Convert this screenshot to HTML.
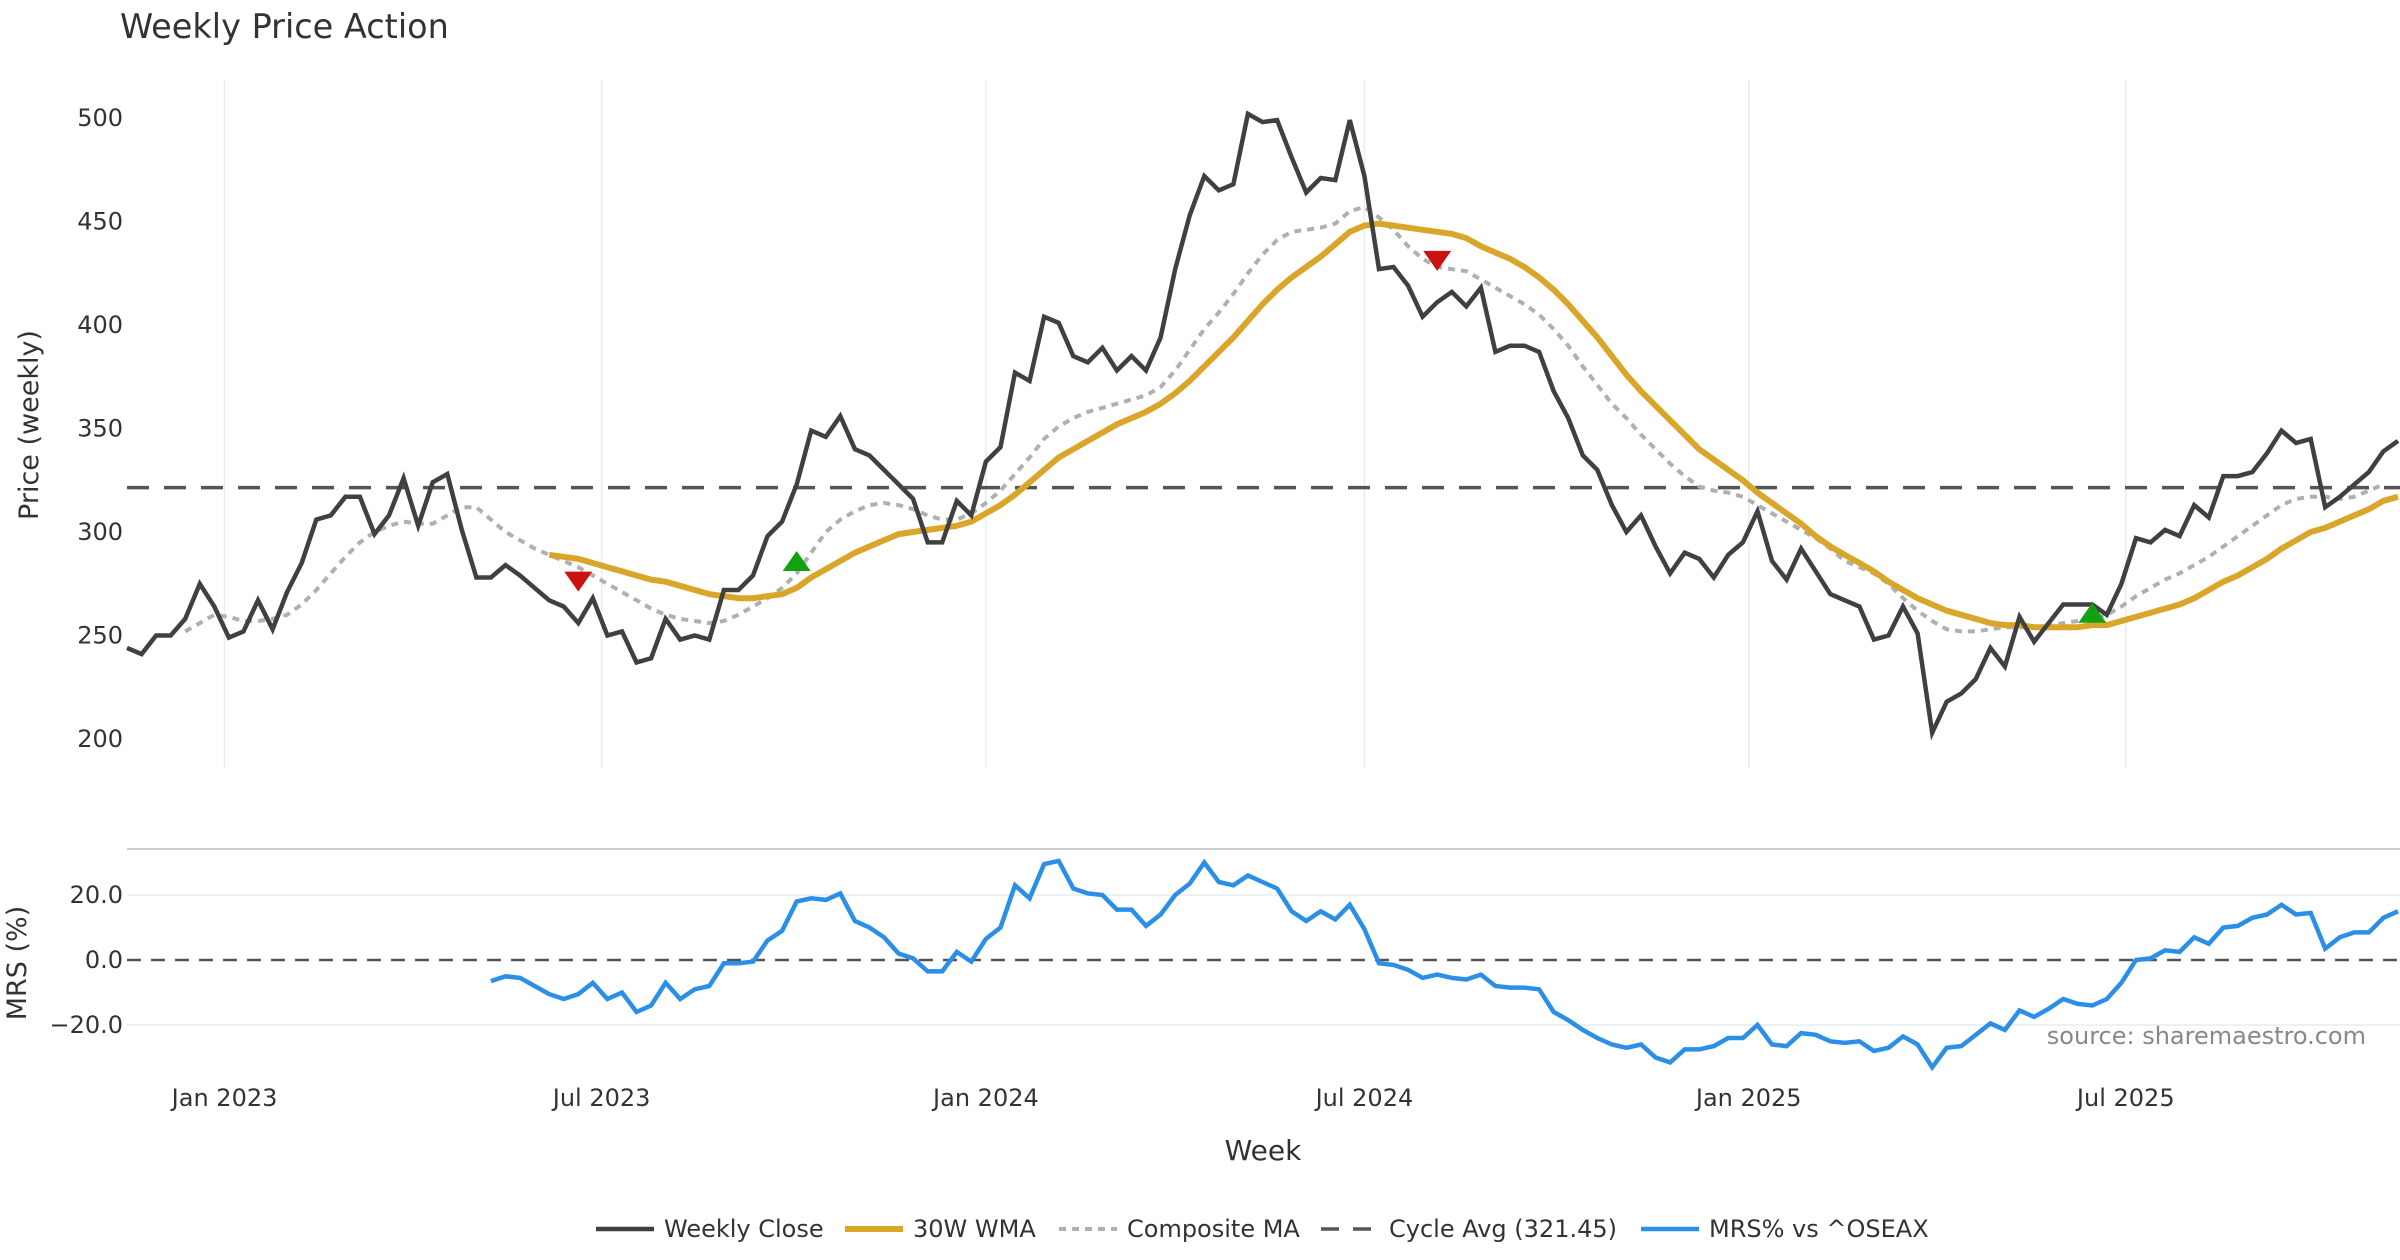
<!DOCTYPE html>
<html><head><meta charset="utf-8"><style>
html,body{margin:0;padding:0;background:#fff;}
svg{display:block;font-family:"DejaVu Sans","Liberation Sans",sans-serif;}
</style></head><body>
<svg id="chart" width="2400" height="1260" viewBox="0 0 2400 1260" xmlns="http://www.w3.org/2000/svg">
<text x="120" y="38" font-size="33.5" fill="#333">Weekly Price Action</text>
<text transform="translate(38,425) rotate(-90)" text-anchor="middle" font-size="27" fill="#333">Price (weekly)</text>
<text transform="translate(26,963) rotate(-90)" text-anchor="middle" font-size="27" fill="#333">MRS (%)</text>
<text x="1263" y="1160" text-anchor="middle" font-size="28" fill="#333">Week</text>
<text x="2366" y="1044" text-anchor="end" font-size="24" fill="#888">source: sharemaestro.com</text>
<g id="grid"></g><g id="marks"></g><g id="legend"></g>
</svg>
<script>
const closes=[244,241,250,250,258,275,264,249,252,267,253,271,285,306,308,317,317,299,308,326,303,324,328,301,278,278,284,279,273,267,264,256,268,250,252,237,239,258,248,250,248,272,272,279,298,305,323,349,346,356,340,337,330,323,316,295,295,315,308,334,341,377,373,404,401,385,382,389,378,385,378,394,427,453,472,465,468,502,498,499,481,464,471,470,499,472,427,428,419,404,411,416,409,418,387,390,390,387,368,355,337,330,313,300,308,293,280,290,287,278,289,295,310,286,277,292,281,270,267,264,248,250,264,251,203,218,222,229,244,235,259,247,256,265,265,265,260,275,297,295,301,298,313,307,327,327,329,338,349,343,345,312,317,323,329,339,344];
const wmaStart=29;
const wma=[289,288,287,285,283,281,279,277,276,274,272,270,269,268,268,269,270,273,278,282,286,290,293,296,299,300,301,302,303,305,309,313,318,324,330,336,340,344,348,352,355,358,362,367,373,380,387,394,402,410,417,423,428,433,439,445,448,449,448,447,446,445,444,442,438,435,432,428,423,417,410,402,394,385,376,368,361,354,347,340,335,330,325,319,314,309,304,298,293,289,285,281,276,272,268,265,262,260,258,256,255,255,254,254,254,254,255,255,257,259,261,263,265,268,272,276,279,283,287,292,296,300,302,305,308,311,315,317];
const compStart=4;
const comp=[252,256,260,259,257,257,258,260,265,272,280,288,295,300,303,305,304,304,308,312,312,306,300,296,292,289,286,283,279,275,271,267,263,260,258,257,256,257,260,264,268,273,280,290,300,306,310,313,314,313,311,308,306,306,309,314,320,328,336,345,351,355,358,360,362,364,366,370,378,388,398,406,415,425,434,441,445,446,447,449,455,457,452,446,438,432,428,427,426,422,418,414,410,405,398,390,380,371,362,355,347,340,333,327,322,320,319,317,313,309,305,301,297,292,286,283,280,275,268,262,257,253,252,252,253,254,254,254,255,256,257,258,260,264,269,273,277,280,284,288,293,298,303,308,313,316,317,317,316,317,320,323];
const mrs=[-6.5,-5,-5.5,-8,-10.5,-12,-10.5,-7,-12,-10,-16,-14,-7,-12,-9,-8,-1,-1,-0.5,6,9,18,19,18.5,20.5,12,10,7,2,0.5,-3.5,-3.5,2.5,-0.5,6.5,10,23,19,29.5,30.5,22,20.5,20,15.5,15.5,10.5,14,20,23.5,30,24,23,26,24,22,15,12,15,12.5,17,9.5,-1,-1.5,-3,-5.5,-4.5,-5.5,-6,-4.5,-8,-8.5,-8.5,-9,-16,-18.5,-21.5,-24,-26,-27,-26,-30,-31.5,-27.5,-27.5,-26.5,-24,-24,-20,-26,-26.5,-22.5,-23,-25,-25.5,-25,-28,-27,-23.5,-26,-33,-27,-26.5,-23,-19.5,-21.5,-15.5,-17.5,-15,-12,-13.5,-14,-12,-7,0,0.5,3,2.5,7,5,10,10.5,13,14,17,14,14.5,3.5,7,8.5,8.5,13,15];
const cycleAvg=321.45;
const priceTicks=[500,450,400,350,300,250,200];
const mrsTicks=[20,0,-20];
const mrsTickLabels=["20.0","0.0","\u221220.0"];
const dateLabels=["Jan 2023","Jul 2023","Jan 2024","Jul 2024","Jan 2025","Jul 2025"];
const dateWeeks=[6.7,32.6,59.0,85.0,111.4,137.3];
const signalWeeks=[31,46,90,135];
const signalValues=[276,286,431,261];
const signalTypes=["down","up","down","up"];

const N=closes.length;
const X0=127,X1=2398;
const xs=i=>X0+i*(X1-X0)/(N-1);
const yp=v=>118+(500-v)*(739-118)/300;
const ym=v=>960-v*(960-895)/20;
const NS="http://www.w3.org/2000/svg";
function mk(tag,attrs,parent){const e=document.createElementNS(NS,tag);for(const k in attrs)e.setAttribute(k,attrs[k]);parent.appendChild(e);return e;}
const grid=document.getElementById('grid'),marks=document.getElementById('marks'),legend=document.getElementById('legend');

dateWeeks.forEach((w,k)=>{
  const x=xs(w);
  const g=mk('line',{x1:x,x2:x,y1:80,y2:768,stroke:'#e6eef0','stroke-width':1.5},grid);
  
  
  const t=mk('text',{x:x,y:1106,'text-anchor':'middle','font-size':24,fill:'#333'},grid);
  t.textContent=dateLabels[k];
  
  
});
priceTicks.forEach(v=>{
  const t=mk('text',{x:123,y:yp(v)+8,'text-anchor':'end','font-size':24,fill:'#333'},grid);
  t.textContent=v;
  
  
});
const sep=mk('line',{x1:127,x2:2400,y1:849,y2:849,stroke:'#cccccc','stroke-width':2},grid);


mrsTicks.forEach((v,k)=>{
  if(v!==0){const l=mk('line',{x1:127,x2:2400,y1:ym(v),y2:ym(v),stroke:'#e6eef0','stroke-width':1.5},grid);
  
  }
  const t=mk('text',{x:123,y:ym(v)+8,'text-anchor':'end','font-size':24,fill:'#333'},grid);
  t.textContent=mrsTickLabels[k];
  
  
});
const z=mk('line',{x1:127,x2:2400,y1:ym(0),y2:ym(0),stroke:'#555','stroke-width':2.5,'stroke-dasharray':'14,10'},grid);



function pts(arr,start,yf){return arr.map((v,i)=>xs(start+i).toFixed(1)+','+yf(v).toFixed(1)).join(' ');}
const ca=mk('line',{x1:127,x2:2400,y1:yp(cycleAvg),y2:yp(cycleAvg),stroke:'#555','stroke-width':3.5,'stroke-dasharray':'22,15'},marks);


const cm=mk('polyline',{points:pts(comp,compStart,yp),fill:'none',stroke:'#b0b0b0','stroke-width':4,'stroke-dasharray':'7,6'},marks);


const wl=mk('polyline',{points:pts(wma,wmaStart,yp),fill:'none',stroke:'#d9a62a','stroke-width':6,'stroke-linejoin':'round'},marks);


const cl=mk('polyline',{points:pts(closes,0,yp),fill:'none',stroke:'#404040','stroke-width':4.5,'stroke-linejoin':'miter'},marks);


const ml=mk('polyline',{points:pts(mrs,N-mrs.length,ym),fill:'none',stroke:'#2b8fe8','stroke-width':4.5},marks);


signalWeeks.forEach((w,k)=>{
  const x=xs(w),y=yp(signalValues[k]);
  const p=signalTypes[k]==='down'?`${x-14},${y-10} ${x+14},${y-10} ${x},${y+10}`:`${x-14},${y+10} ${x+14},${y+10} ${x},${y-10}`;
  const s=mk('polygon',{points:p,fill:signalTypes[k]==='down'?'#cc1111':'#13a013'},marks);
  
  
});
const leg=[
 {x:596,label:'Weekly Close',stroke:'#404040',dash:'',w:4.5},
 {x:845,label:'30W WMA',stroke:'#d9a62a',dash:'',w:6},
 {x:1059,label:'Composite MA',stroke:'#b0b0b0',dash:'7,6',w:4},
 {x:1321,label:'Cycle Avg (321.45)',stroke:'#555',dash:'18,14',w:3.5},
 {x:1641,label:'MRS% vs ^OSEAX',stroke:'#2b8fe8',dash:'',w:4.5}];
leg.forEach(it=>{
  const g=mk('g',{},legend);
  
  
  const a={x1:it.x,x2:it.x+58,y1:1229,y2:1229,stroke:it.stroke,'stroke-width':it.w};
  if(it.dash)a['stroke-dasharray']=it.dash;
  mk('line',a,g);
  const t=mk('text',{x:it.x+68,y:1237,'font-size':24,fill:'#333'},g);
  t.textContent=it.label;
});
</script>
</body></html>
